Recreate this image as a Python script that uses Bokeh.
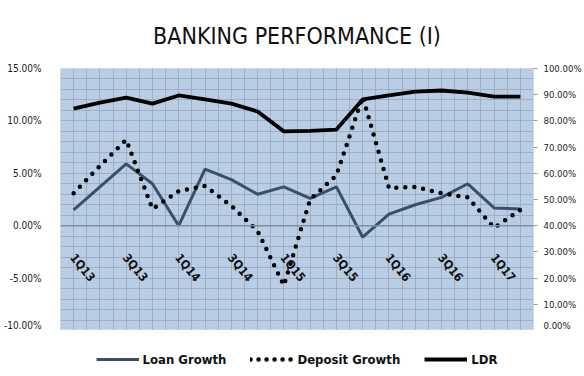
from bokeh.plotting import figure
from bokeh.layouts import column
from bokeh.models import (Range1d, LinearAxis, FixedTicker, PrintfTickFormatter,
                          Span, Legend, LegendItem, ColumnDataSource)
from bokeh.core.properties import value
from bokeh.embed import file_html
from bokeh.resources import INLINE

# Quarterly banking indicators (%)
quarters = ["1Q13", "2Q13", "3Q13", "4Q13", "1Q14", "2Q14", "3Q14", "4Q14",
            "1Q15", "2Q15", "3Q15", "4Q15", "1Q16", "2Q16", "3Q16", "4Q16",
            "1Q17", "2Q17"]
loan_growth = [1.5, 3.7, 5.9, 4.0, 0.0, 5.4, 4.4, 3.0,
               3.7, 2.6, 3.7, -1.1, 1.1, 2.0, 2.7, 4.0,
               1.7, 1.6]
deposit_growth = [3.1, 5.7, 8.2, 1.6, 3.3, 3.8, 1.9, -0.5,
                  -5.7, 2.5, 4.8, 12.3, 3.6, 3.7, 3.1, 2.7,
                  -0.2, 1.5]
ldr = [84.7, 87.0, 88.9, 86.6, 89.7, 88.2, 86.6, 83.6,
       76.0, 76.2, 76.7, 88.2, 89.7, 91.2, 91.6, 90.8,
       89.3, 89.3]
left_ticks = [-10, -5, 0, 5, 10, 15]
right_ticks = [0, 10, 20, 30, 40, 50, 60, 70, 80, 90, 100]

FONT = "DejaVu Sans Condensed"
BG = "#B9CDE5"
GRID = "#8E9DB0"
LOAN_COLOR = "#3A4F6A"

idx = list(range(len(quarters)))

p = figure(width=584, height=330, output_backend="svg", toolbar_location=None,
           x_range=Range1d(-0.5, len(quarters) - 0.5), y_range=Range1d(-10, 15),
           min_border_left=57, min_border_right=49, min_border_top=68,
           min_border_bottom=0)
p.background_fill_color = BG
p.border_fill_color = "white"
p.outline_line_color = "#D0D8E2"

p.title.text = "BANKING PERFORMANCE (I)"
p.title.align = "center"
p.title.text_font = FONT
p.title.text_font_size = "23px"
p.title.text_font_style = "normal"
p.title.text_color = "#111111"
p.title.offset = 0
p.title.standoff = 39

p.extra_y_ranges = {"ldr": Range1d(0, 100)}

# grid: category boundaries and centres, 1% steps vertically
p.xaxis.visible = False
p.xgrid.ticker = FixedTicker(ticks=[i * 0.5 - 0.5 for i in range(2 * len(quarters) + 1)])
p.xgrid.grid_line_color = GRID
p.xgrid.grid_line_alpha = 0.6
p.ygrid.ticker = FixedTicker(ticks=list(range(-10, 16)))
p.ygrid.grid_line_color = GRID
p.ygrid.grid_line_alpha = 0.6

# left axis
ya = p.yaxis[0]
ya.ticker = FixedTicker(ticks=left_ticks)
ya.formatter = PrintfTickFormatter(format="%.2f%%")
ya.axis_line_color = None
ya.major_tick_line_color = None
ya.minor_tick_line_color = None
ya.major_label_text_font = FONT
ya.major_label_text_font_size = "10px"
ya.major_label_text_color = "#222222"
ya.major_label_standoff = 13

# right axis
ra = LinearAxis(y_range_name="ldr", ticker=FixedTicker(ticks=right_ticks),
                formatter=PrintfTickFormatter(format="%.2f%%"))
ra.axis_line_color = None
ra.major_tick_line_color = GRID
ra.major_tick_in = 0
ra.major_tick_out = 4
ra.minor_tick_line_color = None
ra.major_label_text_font = FONT
ra.major_label_text_font_size = "9.5px"
ra.major_label_text_color = "#222222"
ra.major_label_standoff = 6
p.add_layout(ra, "right")

# zero line
p.add_layout(Span(location=0, dimension="width", line_color="#7F8FA3", line_width=1.5))

p.line(idx, loan_growth, line_color=LOAN_COLOR, line_width=3)
p.line(idx, deposit_growth, line_color="black", line_width=4.5,
       line_dash="0 9", line_cap="round")
p.line(idx, ldr, y_range_name="ldr", line_color="black", line_width=3.8)

# rotated quarter labels below the zero line
lab = ColumnDataSource(dict(x=idx[::2], y=[0] * len(idx[::2]), t=quarters[::2]))
p.text(x="x", y="y", text="t", source=lab, angle=-0.88, x_offset=9, y_offset=42,
       text_align="center", text_baseline="middle", text_font=value(FONT),
       text_font_size="12px", text_font_style="bold", text_color="#111111")

# legend strip under the chart; the key renderers hold a single empty point
lg = figure(width=584, height=46, output_backend="svg", toolbar_location=None,
            x_range=Range1d(0, 1), y_range=Range1d(0, 1),
            min_border=0)
lg.axis.visible = False
lg.grid.visible = False
lg.outline_line_color = None
lg.background_fill_color = "white"
nan = float("nan")
k_loan = lg.line([nan], [nan], line_color=LOAN_COLOR, line_width=3)
k_dep = lg.line([nan], [nan], line_color="black", line_width=4.5, line_dash="0 8",
                line_cap="round")
k_ldr = lg.line([nan], [nan], line_color="black", line_width=3.8)

legend = Legend(items=[LegendItem(label="Loan Growth", renderers=[k_loan]),
                       LegendItem(label="Deposit Growth", renderers=[k_dep]),
                       LegendItem(label="LDR", renderers=[k_ldr])],
                orientation="horizontal", location="bottom_center")
legend.label_text_font = FONT
legend.label_text_font_size = "13px"
legend.label_text_font_style = "bold"
legend.label_text_color = "#111111"
legend.glyph_width = 43
legend.label_standoff = 4
legend.spacing = 24
legend.border_line_color = None
legend.background_fill_alpha = 0
legend.padding = 4
legend.margin = 7
lg.add_layout(legend)

open("out.html", "w").write(file_html(column(p, lg, spacing=0), INLINE))
